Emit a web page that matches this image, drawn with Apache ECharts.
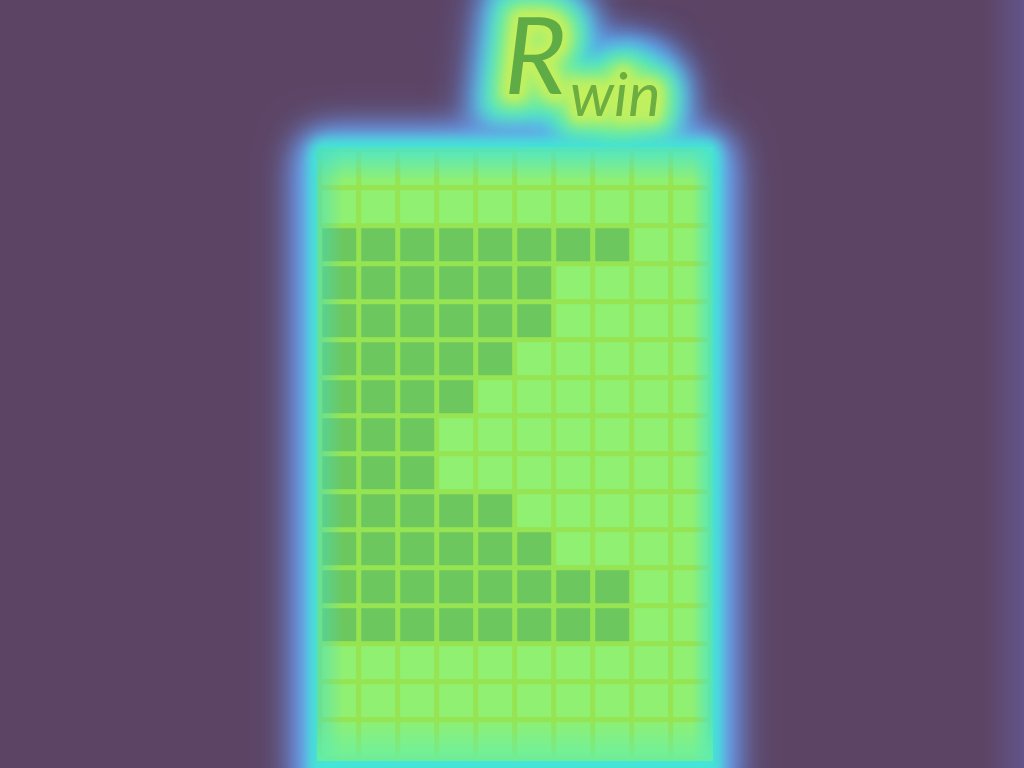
<!DOCTYPE html>
<html>
<head>
<meta charset="utf-8">
<style>html,body{margin:0;padding:0;background:#5c4465;}#c{width:1024px;height:768px;}</style>
<script src="https://cdn.jsdelivr.net/npm/echarts@6/dist/echarts.min.js"></script>
</head>
<body>
<div id="c"></div>
<script>
// ---- data ----
const columnLabels = ['1','2','3','4','5','6','7','8','9','10'];
const rowLabels = ['1','2','3','4','5','6','7','8','9','10','11','12','13','14','15','16'];
// 1 = dark (low) cell, 0 = bright cell; rows listed top to bottom
const cellRows = [
  [0,0,0,0,0,0,0,0,0,0],
  [0,0,0,0,0,0,0,0,0,0],
  [1,1,1,1,1,1,1,1,0,0],
  [1,1,1,1,1,1,0,0,0,0],
  [1,1,1,1,1,1,0,0,0,0],
  [1,1,1,1,1,0,0,0,0,0],
  [1,1,1,1,0,0,0,0,0,0],
  [1,1,1,0,0,0,0,0,0,0],
  [1,1,1,0,0,0,0,0,0,0],
  [1,1,1,1,1,0,0,0,0,0],
  [1,1,1,1,1,1,0,0,0,0],
  [1,1,1,1,1,1,1,1,0,0],
  [1,1,1,1,1,1,1,1,0,0],
  [0,0,0,0,0,0,0,0,0,0],
  [0,0,0,0,0,0,0,0,0,0],
  [0,0,0,0,0,0,0,0,0,0]
];
const titleMain = 'R';
const titleSub = 'win';

const heatData = [];
cellRows.forEach((row, r) => row.forEach((v, c) => heatData.push([c, r, v])));

const chart = echarts.init(document.getElementById('c'), null, {renderer: 'canvas'});
chart.setOption({
  backgroundColor: '#5c4465',
  animation: false,
  grid: {left: 320, right: 314, top: 150, bottom: 10},
  xAxis: {type: 'category', data: columnLabels, show: false},
  yAxis: {type: 'category', data: rowLabels, inverse: true, show: false},
  visualMap: {
    type: 'piecewise', show: false, dimension: 2,
    pieces: [{value: 0, color: '#90f072'}, {value: 1, color: '#6cc85e'}]
  },
  series: [{
    type: 'heatmap',
    data: heatData,
    z: 5,
    itemStyle: {borderColor: '#96e452', borderWidth: 5}
  }]
});

// grid rectangle derived from the axes
const c0 = chart.convertToPixel({gridIndex: 0}, [0, 0]);
const c1 = chart.convertToPixel({gridIndex: 0}, [1, 1]);
const cw = c1[0] - c0[0], ch = c1[1] - c0[1];
const gx = c0[0] - cw / 2, gy = c0[1] - ch / 2;
const gw = cw * columnLabels.length, gh = ch * rowLabels.length;

const OFF = 3000; // draw shapes off-canvas, keep only their blurred shadow
const FONT = 'italic SIZEpx Lato, "Open Sans", sans-serif';
function glowText(x, y, text, size, color, lw, blur, z) {
  return {
    type: 'text', x: x - OFF, y: y, z: z, silent: true,
    style: {
      text: text, fill: color, stroke: color, lineWidth: lw, lineJoin: 'round',
      font: FONT.replace('SIZE', size),
      textShadowColor: color, textShadowBlur: blur, textShadowOffsetX: OFF, textShadowOffsetY: 0
    }
  };
}
function plainText(x, y, text, size, color, z) {
  return {type: 'text', x: x, y: y, z: z, silent: true,
    style: {text: text, fill: color, font: FONT.replace('SIZE', size)}};
}
function glowRect(x, y, w, h, r, color, blur, z) {
  return {type: 'rect', z: z, silent: true, shape: {x: x - OFF, y: y, width: w, height: h, r: r},
    style: {fill: color, shadowColor: color, shadowBlur: blur, shadowOffsetX: OFF}};
}
const R_X = 504, R_Y = 6, R_S = 107;
const W_X = 570, W_Y = 66, W_S = 61;

const graphics = [
  // right edge strip
  {type: 'rect', z: -10, silent: true, shape: {x: 985, y: 0, width: 39, height: 768},
   style: {fill: new echarts.graphic.LinearGradient(0, 0, 1, 0, [
     {offset: 0, color: 'rgba(98,84,138,0)'}, {offset: 1, color: 'rgba(98,84,138,1)'}])}},
  // outer glow around grid
  glowRect(gx - 22, gy - 18, gw + 44, gh + 70, 28, '#6c9ef8', 40, -6),
  glowRect(gx - 22, gy - 18, gw + 44, gh + 70, 28, '#6c9ef8', 28, -6),
  glowRect(gx - 10, gy - 10, gw + 20, gh + 60, 14, '#44e4d6', 18, -5),
  glowRect(gx - 8, gy - 8, gw + 16, gh + 60, 10, '#44e4d6', 12, -5)
];
// title glow layers
[['#6c9ef8', 70, 44, -7], ['#6c9ef8', 66, 28, -7], ['#48e4d4', 50, 28, -4], ['#48e4d4', 44, 18, -4],
 ['#7cee8e', 30, 22, -3], ['#a8f070', 18, 18, -2], ['#c6f05c', 10, 12, -1]].forEach((g) => {
  graphics.push(glowText(R_X, R_Y, titleMain, R_S, g[0], g[1], g[2], g[3]));
  graphics.push(glowText(W_X, W_Y, titleSub, W_S, g[0], g[1] * 0.9, g[2], g[3]));
});
// inner edge tint
function tint(x, y, w, h, gx1, gy1, gx2, gy2, col, a) {
  return {type: 'rect', z: 20, silent: true, shape: {x: x, y: y, width: w, height: h},
    style: {fill: new echarts.graphic.LinearGradient(gx1, gy1, gx2, gy2, [
      {offset: 0, color: 'rgba(' + col + ',' + a + ')'}, {offset: 1, color: 'rgba(' + col + ',0)'}])}};
}
graphics.push(tint(gx - 3, gy - 3, gw + 6, 34, 0, 0, 0, 1, '68,228,214', 0.85));
graphics.push(tint(gx - 3, gy - 3, 26, gh + 6, 0, 0, 1, 0, '68,220,200', 0.6));
graphics.push(tint(gx + gw - 18, gy - 3, 21, gh + 6, 1, 0, 0, 0, '68,228,214', 0.8));
graphics.push(tint(gx - 3, gy + gh - 40, gw + 6, 43, 0, 1, 0, 0, '100,240,170', 0.8));
graphics.push(plainText(R_X, R_Y, titleMain, R_S, '#5fac46', 40));
graphics.push(plainText(W_X, W_Y, titleSub, W_S, '#6cae42', 40));
chart.setOption({graphic: {elements: graphics}});
</script>
</body>
</html>
